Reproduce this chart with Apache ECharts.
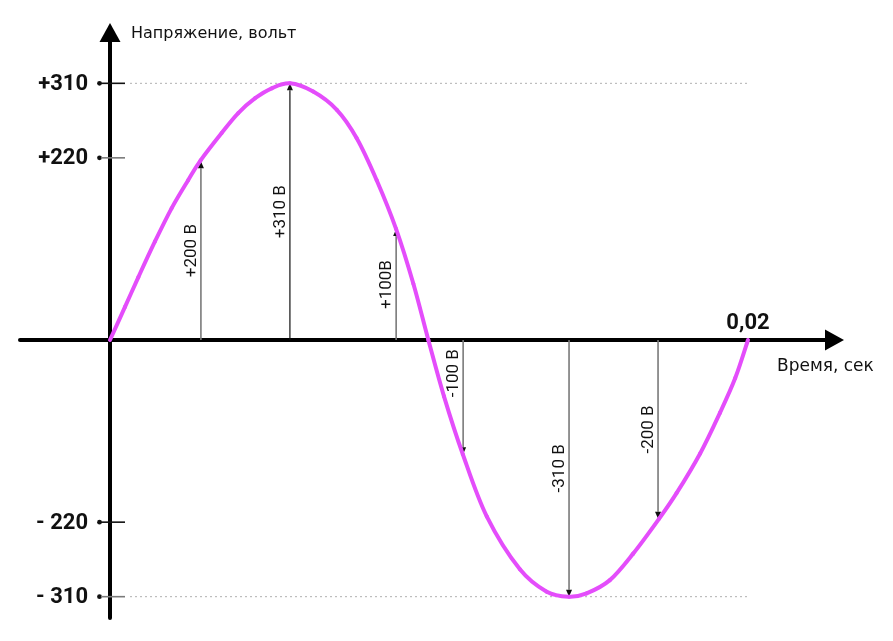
<!DOCTYPE html>
<html>
<head>
<meta charset="utf-8">
<script src="https://cdn.jsdelivr.net/npm/echarts@6/dist/echarts.min.js"></script>
<style>
  html, body { margin: 0; padding: 0; background: #ffffff; }
  #chart { width: 893px; height: 641px; }
</style>
</head>
<body>
<div id="chart"></div>
<script>
// ---------------- data (time in ms, voltage in volts) ----------------
var curveTime = [0, 0.47, 0.89, 1.41, 1.93, 2.45, 2.84, 3.50, 4.02, 4.55, 5.07, 5.64,
                 6.37, 7.11, 7.73, 8.36, 8.97, 9.51, 9.98,
                 10.47, 11.06, 11.81, 12.85, 13.69, 14.39,
                 14.94, 15.67, 16.40, 17.21, 17.76, 18.50, 19.12, 19.60, 20.0];
var curveVolt = [0, 40, 76, 119, 159, 193, 217, 250, 274, 292, 304, 310,
                 300, 278, 244, 193, 134, 68, 0,
                 -68, -138, -213, -277, -304, -310,
                 -306, -290, -258, -216, -185, -137, -88, -46, 0];

var arrowTime   = [2.85, 5.64, 8.97, 11.07, 14.39, 17.18];
var arrowVolt   = [216, 310, 134, -138, -310, -216];
var arrowLabels = ['+200 В', '+310 В', '+100В', '-100 В', '-310 В', '-200 В'];

var yTickValues = [310, 220, -220, -310];
var yTickLabels = ['+310', '+220', '- 220', '- 310'];
var xTickValues = [20];
var xTickLabels = ['0,02'];

var yAxisTitle = 'Напряжение, вольт';
var xAxisTitle = 'Время, сек';

// ---------------- layout / styles ----------------
var W = 893, H = 641;
var gridLeft = 20, gridRight = 834.5, gridTop = 32.5, gridBottom = 618;
var originX = 110, originY = 340, pxPerMs = 31.9, pxPerVolt = 0.828;
var xMin = (gridLeft - originX) / pxPerMs;
var xMax = (gridRight - originX) / pxPerMs;
var yMax = (originY - gridTop) / pxPerVolt;
var yMin = (originY - gridBottom) / pxPerVolt;

var curveColor = '#e44dfb';
var grey = '#7a7a7a';
var tickColors = ['#111111', grey, '#111111', grey];
var arrowColors = [grey, '#111111', grey, grey, grey, grey];
var arrowWidths = [1.6, 1.2, 1.6, 1.6, 1.6, 1.6];
var labelShift = [0, 0, 0, -24, 0, 0];
var boldFont = { fontFamily: 'Roboto', fontWeight: 'bold', fontSize: 22, fill: '#111' };

var chart = echarts.init(document.getElementById('chart'), null, { renderer: 'canvas' });

// smooth curve through all data points (Catmull-Rom -> cubic Bezier), drawn in one item
function renderCurve(params, api) {
  if (params.dataIndex !== 0) return null;
  var pts = curveTime.map(function (t, i) { return api.coord([t, curveVolt[i]]); });
  var n = pts.length, children = [];
  for (var i = 0; i < n - 1; i++) {
    var p0 = pts[Math.max(i - 1, 0)], p1 = pts[i], p2 = pts[i + 1], p3 = pts[Math.min(i + 2, n - 1)];
    children.push({
      type: 'bezierCurve',
      shape: {
        x1: p1[0], y1: p1[1], x2: p2[0], y2: p2[1],
        cpx1: p1[0] + (p2[0] - p0[0]) / 6, cpy1: p1[1] + (p2[1] - p0[1]) / 6,
        cpx2: p2[0] - (p3[0] - p1[0]) / 6, cpy2: p2[1] - (p3[1] - p1[1]) / 6
      },
      style: { stroke: curveColor, lineWidth: 4, fill: null, lineCap: 'round' }
    });
  }
  return { type: 'group', children: children };
}

var option = {
  backgroundColor: '#ffffff',
  animation: false,
  title: [
    { text: yAxisTitle, left: 131, top: 26, padding: 0,
      textStyle: { fontFamily: 'DejaVu Sans', fontSize: 16, fontWeight: 'normal', color: '#111' } },
    { text: xAxisTitle, left: 777, top: 358, padding: 0,
      textStyle: { fontFamily: 'DejaVu Sans', fontSize: 17, fontWeight: 'normal', color: '#111' } }
  ],
  grid: { left: gridLeft, right: W - gridRight, top: gridTop, bottom: H - gridBottom,
          containLabel: false, outerBoundsMode: 'none' },
  xAxis: {
    type: 'value', min: xMin, max: xMax,
    axisLine: { show: true, onZero: true, symbol: ['none', 'triangle'], symbolSize: [21, 19],
                lineStyle: { color: '#000', width: 4 } },
    axisTick: { show: false },
    splitLine: { show: false },
    axisLabel: { show: false }
  },
  yAxis: {
    type: 'value', min: yMin, max: yMax,
    axisLine: { show: true, onZero: true, symbol: ['none', 'triangle'], symbolSize: [21, 19],
                lineStyle: { color: '#000', width: 4 } },
    axisTick: { show: false },
    splitLine: { show: false },
    axisLabel: { show: false }
  },
  series: [
    {
      type: 'custom', name: 'yTicks', coordinateSystem: 'cartesian2d', silent: true, z: 1,
      data: yTickValues.map(function (v) { return [0, v]; }),
      renderItem: function (params, api) {
        var i = params.dataIndex;
        var v = api.value(1);
        var p = api.coord([0, v]);
        var children = [
          { type: 'circle', shape: { cx: p[0] - 10.5, cy: p[1], r: 2.4 }, style: { fill: '#111' } },
          { type: 'line', shape: { x1: p[0] - 9, y1: p[1], x2: p[0] + 15, y2: p[1] },
            style: { stroke: tickColors[i], lineWidth: 1.6 } },
          { type: 'text', x: p[0] - 22, y: p[1] + 1,
            style: Object.assign({ text: yTickLabels[i], align: 'right', verticalAlign: 'middle' }, boldFont) }
        ];
        if (Math.abs(v) === 310) {
          var end = api.coord([20, v]);
          children.push({ type: 'line', shape: { x1: p[0] + 20, y1: p[1], x2: end[0] + 2, y2: p[1] },
            style: { stroke: '#b0b0b0', lineWidth: 1, lineDash: [2, 3] } });
        }
        return { type: 'group', children: children };
      }
    },
    {
      type: 'custom', name: 'xTicks', coordinateSystem: 'cartesian2d', silent: true, z: 1,
      data: xTickValues.map(function (t) { return [t, 0]; }),
      renderItem: function (params, api) {
        var p = api.coord([api.value(0), 0]);
        return { type: 'text', x: p[0], y: p[1] - 6,
          style: Object.assign({ text: xTickLabels[params.dataIndex], align: 'center', verticalAlign: 'bottom' }, boldFont) };
      }
    },
    {
      type: 'custom', name: 'arrows', coordinateSystem: 'cartesian2d', silent: true, z: 2,
      data: arrowTime.map(function (t, i) { return [t, arrowVolt[i]]; }),
      renderItem: function (params, api) {
        var i = params.dataIndex;
        var t = api.value(0), v = api.value(1);
        var b = api.coord([t, 0]);
        var tip = api.coord([t, v]);
        var dir = v > 0 ? 1 : -1;
        var headLen = 7, headHalf = 3;
        var midY = (b[1] + tip[1]) / 2 + labelShift[i];
        return {
          type: 'group',
          children: [
            { type: 'line', shape: { x1: b[0], y1: b[1], x2: tip[0], y2: tip[1] + dir * headLen },
              style: { stroke: arrowColors[i], lineWidth: arrowWidths[i] } },
            { type: 'polygon', shape: { points: [[tip[0], tip[1]], [tip[0] - headHalf, tip[1] + dir * headLen],
                                                 [tip[0] + headHalf, tip[1] + dir * headLen]] },
              style: { fill: '#111' } },
            { type: 'text', x: b[0] - 9, y: midY, rotation: Math.PI / 2,
              style: { text: arrowLabels[i], fontFamily: 'Roboto', fontSize: 17, fill: '#111',
                       align: 'center', verticalAlign: 'middle' } }
          ]
        };
      }
    },
    {
      type: 'custom', name: 'voltage', coordinateSystem: 'cartesian2d', silent: true, z: 3,
      data: curveTime.map(function (t, i) { return [t, curveVolt[i]]; }),
      renderItem: renderCurve
    }
  ]
};
chart.setOption(option);
</script>
</body>
</html>
